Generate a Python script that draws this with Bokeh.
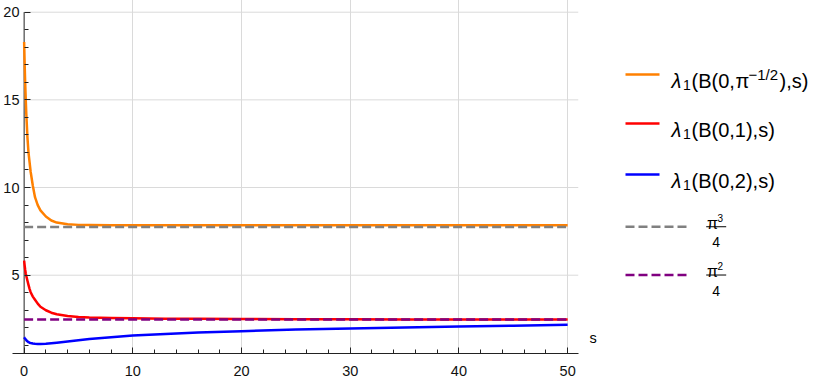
import math
from bokeh.plotting import figure
from bokeh.models import Range1d, FixedTicker
from bokeh.layouts import row
from bokeh.core.properties import value
from bokeh.embed import file_html
from bokeh.resources import INLINE

# ---------------- data ----------------
s = [0, 0.05, 0.1, 0.15, 0.2, 0.3, 0.4, 0.5, 0.6, 0.8, 1.0, 1.25, 1.5, 2, 2.5,
     3, 4, 5, 6, 8, 10, 13, 16, 20, 25, 30, 35, 40, 45, 50]
lam_orange = [18.3, 17.0, 15.9, 15.0, 14.2, 12.9, 12.0, 11.45, 10.9, 10.1, 9.45,
              9.0, 8.7, 8.35, 8.12, 8.0, 7.9, 7.87, 7.86, 7.85, 7.85, 7.85, 7.85,
              7.85, 7.85, 7.85, 7.85, 7.85, 7.85, 7.85]
lam_red = [5.83, 5.55, 5.3, 5.1, 4.95, 4.7, 4.45, 4.22, 4.03, 3.78, 3.6, 3.38,
           3.2, 3.0, 2.86, 2.77, 2.67, 2.62, 2.59, 2.56, 2.54, 2.52, 2.51, 2.50,
           2.49, 2.485, 2.48, 2.478, 2.475, 2.473]
lam_blue = [1.46, 1.41, 1.37, 1.33, 1.29, 1.23, 1.18, 1.15, 1.13, 1.10, 1.085,
            1.08, 1.08, 1.09, 1.12, 1.15, 1.22, 1.29, 1.36, 1.46, 1.56, 1.65,
            1.73, 1.81, 1.90, 1.96, 2.02, 2.07, 2.12, 2.17]
pi3_4 = math.pi ** 3 / 4
pi2_4 = math.pi ** 2 / 4

x_major = [0, 10, 20, 30, 40, 50]
x_minor = [2, 4, 6, 8, 12, 14, 16, 18, 22, 24, 26, 28, 32, 34, 36, 38, 42, 44, 46, 48]
y_major = [5, 10, 15, 20]
y_minor = [1, 2, 3, 4, 6, 7, 8, 9, 11, 12, 13, 14, 16, 17, 18, 19]

# ---------------- styles ----------------
FONT = value("Liberation Sans")
C_OR, C_RED, C_BLUE, C_GRAY, C_PUR = "#FF8000", "#FF0000", "#0000FF", "#808080", "#800080"
AX = "#222222"
GRID = "#dadada"
LW = 2.5
DASH = "9 4"

W_MAIN, H = 584, 384
HIDE = 20                      # extra canvas above the visible page (scrolled off)
PX_Y = 17.533                  # pixels per y unit
X_START, X_END = -1.07, 51.0
Y_START = 0.534
Y_END = 20.667 + HIDE / PX_Y

p = figure(width=W_MAIN, height=H + HIDE, title=None,
           x_range=Range1d(X_START, X_END), y_range=Range1d(Y_START, Y_END),
           output_backend="svg", toolbar_location=None,
           min_border_left=10, min_border_right=6, min_border_top=0, min_border_bottom=31)
p.outline_line_color = None
p.background_fill_color = "white"
p.border_fill_color = "white"

for ax in (p.xaxis[0], p.yaxis[0]):
    ax.axis_line_color = AX
    ax.major_tick_line_color = AX
    ax.minor_tick_line_color = AX
    ax.major_label_text_font = "Liberation Sans"
    ax.major_label_text_font_size = "14.5px"
    ax.major_label_text_color = "#111111"

# x axis: ticks pointing into the plot
p.xaxis.ticker = FixedTicker(ticks=x_major, minor_ticks=x_minor)
p.xaxis.major_tick_in = 6
p.xaxis.major_tick_out = 0
p.xaxis.minor_tick_in = 4
p.xaxis.minor_tick_out = 0
p.xaxis.major_label_standoff = 12

# y axis crosses at s = 0: ticks shifted to that position, line drawn there
p.yaxis.ticker = FixedTicker(ticks=y_major, minor_ticks=y_minor)
p.yaxis.axis_line_color = None
p.yaxis.major_tick_out = -12
p.yaxis.major_tick_in = 18
p.yaxis.minor_tick_out = -12
p.yaxis.minor_tick_in = 16
p.yaxis.major_label_standoff = 5

p.xgrid.ticker = FixedTicker(ticks=[t for t in x_major if t != 0])
p.xgrid.grid_line_color = GRID
p.ygrid.visible = False
# horizontal grid lines start at the y axis (s = 0)
p.segment(x0=[x_major[0]] * len(y_major), y0=y_major,
          x1=[X_END] * len(y_major), y1=y_major, line_color=GRID, line_width=1)
# y axis line at s = 0
p.segment(x0=[x_major[0]], y0=[Y_START], x1=[x_major[0]], y1=[y_major[-1]],
          line_color=AX, line_width=1)

p.line(s, lam_orange, line_color=C_OR, line_width=LW, line_join="round")
p.line(s, lam_red, line_color=C_RED, line_width=LW, line_join="round")
p.line(s, lam_blue, line_color=C_BLUE, line_width=LW, line_join="round")
p.line([s[0], s[-1]], [pi3_4, pi3_4], line_color=C_GRAY, line_width=LW, line_dash=DASH)
p.line([s[0], s[-1]], [pi2_4, pi2_4], line_color=C_PUR, line_width=LW, line_dash=DASH)

# ---------------- legend panel ----------------
leg = figure(width=830 - W_MAIN, height=H + HIDE, x_range=Range1d(W_MAIN, 830),
             y_range=Range1d(H, -HIDE),
             output_backend="svg", toolbar_location=None, title=None,
             x_axis_location=None, y_axis_location=None, min_border=0)
leg.outline_line_color = None
leg.xgrid.visible = False
leg.ygrid.visible = False


def txt(x, y, t, size, style="normal", align="left"):
    leg.text(x=[x], y=[y], text=[t], text_font=FONT, text_font_size=value(f"{size}px"),
             text_font_style=style, text_align=align, text_baseline="alphabetic",
             text_color="#000000")


legend_y = [81.7, 135, 190, 246.7, 299]
solid_colors = [C_OR, C_RED, C_BLUE]
for yl, c in zip(legend_y[:3], solid_colors):
    leg.line([625, 659], [yl, yl], line_color=c, line_width=LW)
for yl, c in zip(legend_y[3:], [C_GRAY, C_PUR]):
    leg.line([625, 688], [yl, yl], line_color=c, line_width=LW, line_dash=DASH)

for i, yl in enumerate(legend_y[:3]):
    b = yl + 7
    txt(671, b, "λ", 20, "italic")
    txt(682.5, b + 4, "1", 14)
    if i == 0:
        txt(691, b, "(B(0,", 20)
        txt(735, b, "π", 20)
        txt(748, b - 6.5, "−1/2", 15)
        txt(779, b, "),s)", 20)
    else:
        r = "1" if i == 1 else "2"
        txt(691, b, f"(B(0,{r}),s)", 20)

for yl, pw in zip(legend_y[3:], ["3", "2"]):
    leg.segment(x0=[705.7], y0=[yl], x1=[725.7], y1=[yl], line_color="black", line_width=1)
    txt(706.5, yl - 3.7, "π", 16)
    txt(717, yl - 10, pw, 10)
    txt(715.7, yl + 16.8, "4", 14, align="center")

txt(589, 367, "s", 14.5)

layout = row(p, leg)
layout.styles = {"margin-top": f"-{HIDE}px"}

open("out.html", "w").write(file_html(layout, INLINE))
